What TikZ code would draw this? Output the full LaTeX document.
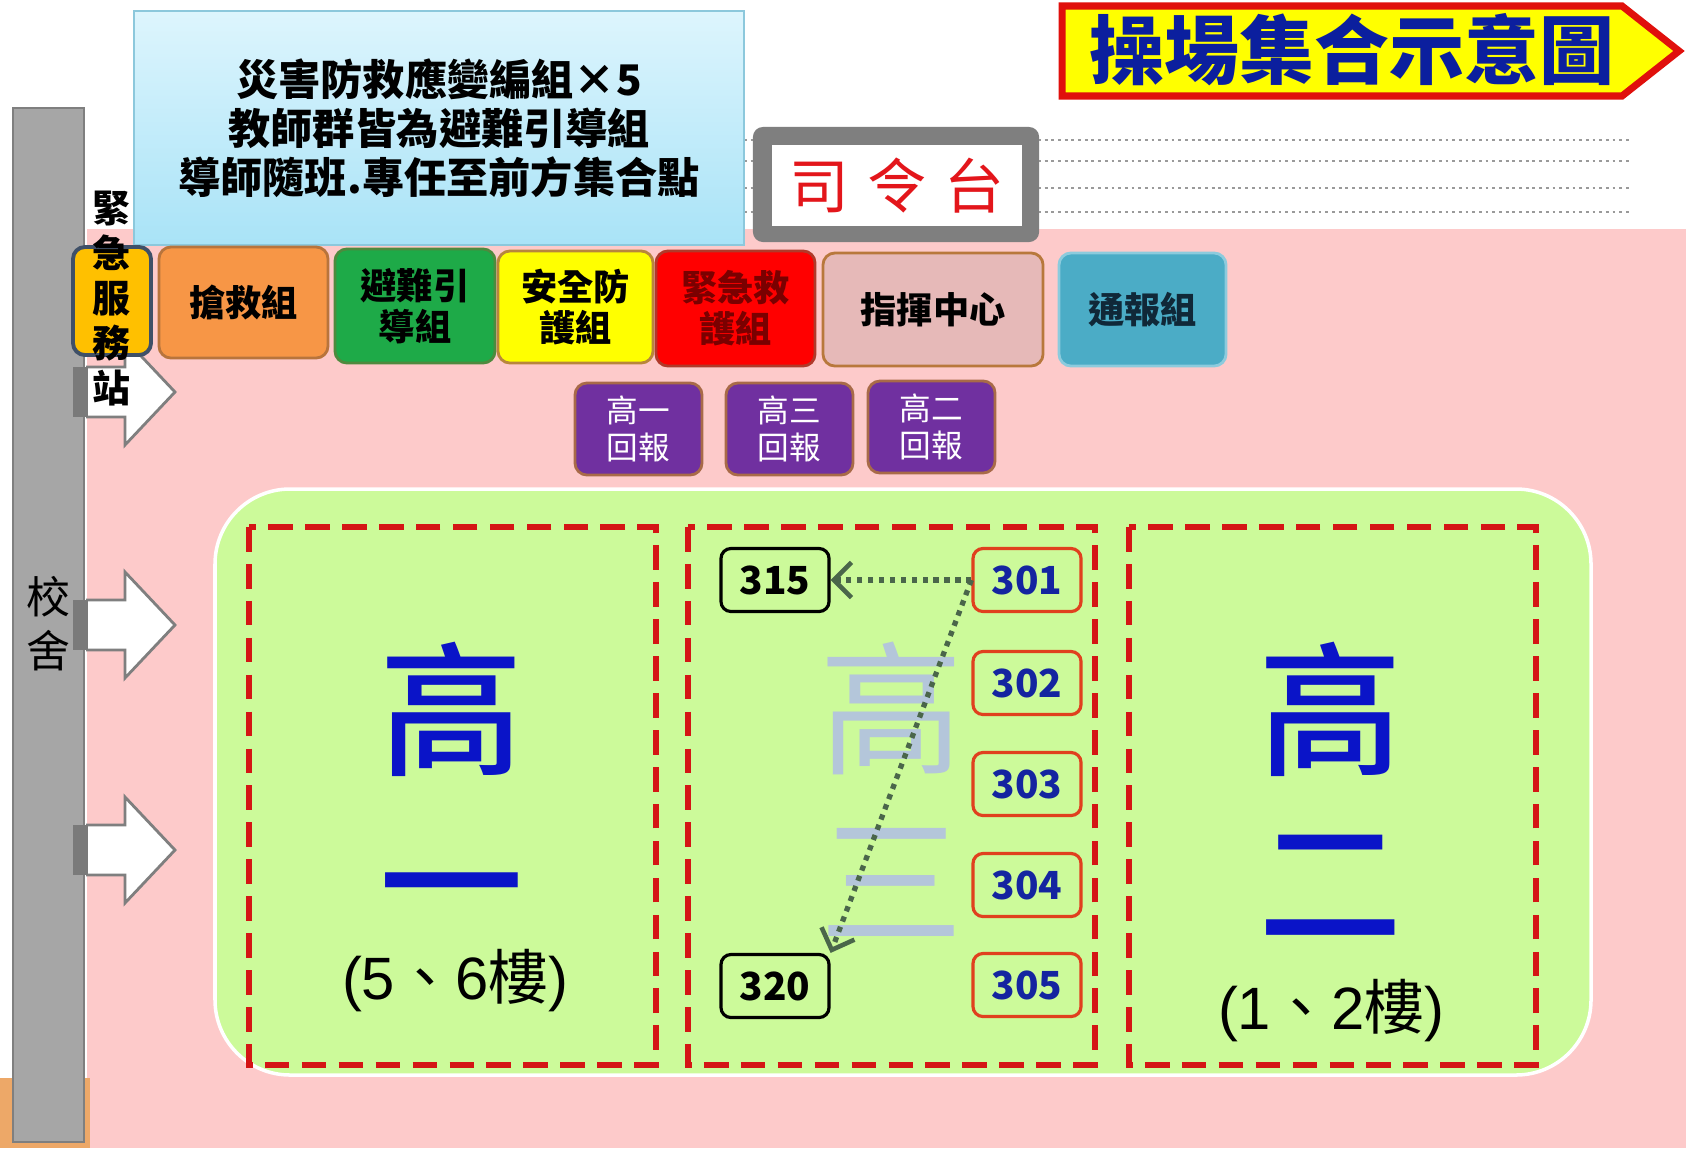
\documentclass[tikz,border=0pt]{standalone}
\usepackage{fontspec}
\setmainfont{Noto Sans CJK TC}
\newfontfamily\latfont{Liberation Sans}
\IfFontExistsTF{Noto Sans CJK TC Medium}
  {\newfontfamily\bigfont{Noto Sans CJK TC Medium}}
  {\newfontfamily\bigfont{Noto Sans CJK TC}[FakeBold=2]}
\usetikzlibrary{arrows.meta}
\definecolor{pinkbg}{HTML}{FDCACA}
\definecolor{orangebit}{HTML}{EDA868}
\definecolor{bargray}{HTML}{A6A6A6}
\definecolor{bardark}{HTML}{7F7F7F}
\definecolor{stubgray}{HTML}{7A7A7A}
\definecolor{arrgray}{HTML}{7F7F7F}
\definecolor{guidec}{HTML}{9A9A9A}
\definecolor{bluetop}{HTML}{DDF5FD}
\definecolor{bluebot}{HTML}{A9E3F7}
\definecolor{blueedge}{HTML}{8CC8DC}
\definecolor{titley}{HTML}{FFFF00}
\definecolor{titler}{HTML}{E0100C}
\definecolor{titleb}{HTML}{0B1F9E}
\definecolor{frgray}{HTML}{7F7F7F}
\definecolor{stagered}{HTML}{E3161B}
\definecolor{emgfill}{HTML}{FFC000}
\definecolor{emgedge}{HTML}{3F5068}
\definecolor{qjfill}{HTML}{F79646}
\definecolor{qjedge}{HTML}{B8743C}
\definecolor{bnfill}{HTML}{1EAA48}
\definecolor{bnedge}{HTML}{4E8A3E}
\definecolor{aqfill}{HTML}{FFFF00}
\definecolor{aqedge}{HTML}{B8863C}
\definecolor{jjfill}{HTML}{FF0000}
\definecolor{jjedge}{HTML}{B03A2A}
\definecolor{jjtext}{HTML}{7A0000}
\definecolor{zhfill}{HTML}{E6B9B8}
\definecolor{zhedge}{HTML}{B8783C}
\definecolor{tbfill}{HTML}{4BACC6}
\definecolor{tbedge}{HTML}{8CCBDD}
\definecolor{tbtext}{HTML}{102838}
\definecolor{purp}{HTML}{7030A0}
\definecolor{repedge}{HTML}{A86A48}
\definecolor{fieldg}{HTML}{CCFA9A}
\definecolor{zonered}{HTML}{D41515}
\definecolor{bigblue}{HTML}{0A14C8}
\definecolor{palebl}{HTML}{B4C6DA}
\definecolor{clsred}{HTML}{E0401E}
\definecolor{clsblue}{HTML}{1424A0}
\definecolor{dotc}{HTML}{4A664A}
\tikzset{
  grp/.style={draw=#1, rounded corners=0.12cm, line width=0.8pt, inner sep=0pt, align=center,
    font=\fontsize{10.3}{11.6}\selectfont\bfseries},
  rep/.style={draw=repedge, fill=purp, rounded corners=0.12cm, line width=0.8pt, text=white,
    align=center, inner sep=0pt, minimum width=1.27cm, minimum height=0.92cm,
    font=\fontsize{9}{10.5}\selectfont},
  cls/.style={draw=clsred, rounded corners=0.1cm, line width=0.9pt, inner sep=0pt,
    minimum width=1.08cm, minimum height=0.63cm, text=clsblue,
    font=\fontsize{11}{11}\selectfont\bfseries},
  clsk/.style={cls, draw=black, text=black},
  zone/.style={draw=zonered, line width=1.7pt, dash pattern=on 7pt off 3.5pt},
  bigc/.style={text=bigblue, align=center, font=\fontsize{41}{49}\selectfont\bigfont},
  floorlbl/.style={font=\fontsize{17}{17}\selectfont, text=black},
  dotarrow/.style={draw=dotc, line width=1.5pt, dash pattern=on 1.5pt off 1.6pt,
    -{Straight Barb[length=5pt,width=10pt,line width=1.3pt]}},
  widearrow/.style={fill=white, draw=arrgray, line width=0.8pt, line join=miter},
  guide/.style={draw=guidec, line width=0.4pt, dash pattern=on 0.8pt off 1.1pt},
}
\begin{document}
\begin{tikzpicture}[x=0.01cm,y=-0.01cm]
\useasboundingbox (0,0) rectangle (1686,1148);
\fill[white] (0,0) rectangle (1686,1148);
\fill[pinkbg] (87,229) rectangle (1686,1148);
\fill[orangebit] (0,1078) rectangle (90,1148);
% guide lines right of the stage
\foreach \yy in {140,161,188,212} \draw[guide] (744,\yy) -- (1629,\yy);

% school building bar
\node[draw=bardark, fill=bargray, line width=0.6pt, minimum width=0.71cm, minimum height=10.34cm, inner sep=0pt] (bar) at (48.5,625) {};
\node[align=center, font=\fontsize{12.5}{15.4}\selectfont] (bartxt) at (48,624) {校\\舍};

% exit arrows
\draw[widearrow] (86,367) -- (125,367) -- (125,339) -- (175,392) -- (125,445) -- (125,417) -- (86,417);
\fill[stubgray] (73,367) rectangle (88,417);
\draw[widearrow] (86,600) -- (125,600) -- (125,572) -- (175,625) -- (125,678) -- (125,650) -- (86,650);
\fill[stubgray] (73,600) rectangle (88,650);
\draw[widearrow] (86,825) -- (125,825) -- (125,797) -- (175,850) -- (125,903) -- (125,875) -- (86,875);
\fill[stubgray] (73,825) rectangle (88,875);

% info box
\node[draw=blueedge, top color=bluetop, bottom color=bluebot, line width=0.6pt,
      minimum width=6.10cm, minimum height=2.34cm, inner sep=0pt, align=center,
      font=\fontsize{12}{13.9}\selectfont\bfseries] (info) at (439,128)
  {災害防救應變編組×5\\教師群皆為避難引導組\\導師隨班.專任至前方集合點};

% title arrow
\path[fill=titley, draw=titler, line width=2pt, line join=miter]
  (1062,6) -- (1622,6) -- (1679,51) -- (1622,96) -- (1062,96) -- cycle;
\node[text=titleb, font=\fontsize{21.3}{22}\selectfont\bfseries] (title) at (1352,50) {操場集合示意圖};

% stage
\node[fill=frgray, rounded corners=0.1cm, minimum width=2.86cm, minimum height=1.15cm, inner sep=0pt] (stageframe) at (896,184.5) {};
\node[fill=white, minimum width=2.50cm, minimum height=0.81cm, inner sep=0pt, text=stagered,
      font=\fontsize{17}{17}\selectfont\addfontfeatures{LetterSpace=30}] (stage) at (897,185.5) {司令台};

% group boxes
\node[grp=emgedge, fill=emgfill, line width=1.1pt, minimum width=0.78cm, minimum height=1.08cm] (emgbox) at (112,301) {};
\node[align=center, font=\fontsize{10.8}{12.8}\selectfont\bfseries] (emgtxt) at (111,299) {緊\\急\\服\\務\\站};
\node[grp=qjedge, fill=qjfill, minimum width=1.69cm, minimum height=1.11cm] (qj) at (243.5,302.5) {搶救組};
\node[grp=bnedge, fill=bnfill, minimum width=1.60cm, minimum height=1.14cm] (bn) at (415,306) {避難引\\導組};
\node[grp=aqedge, fill=aqfill, minimum width=1.55cm, minimum height=1.12cm] (aq) at (575.5,307) {安全防\\護組};
\node[grp=jjedge, fill=jjfill, text=jjtext, minimum width=1.59cm, minimum height=1.15cm] (jj) at (735.5,308.5) {緊急救\\護組};
\node[grp=zhedge, fill=zhfill, minimum width=2.20cm, minimum height=1.13cm] (zh) at (933,309.5) {指揮中心};
\node[grp=tbedge, fill=tbfill, text=tbtext, minimum width=1.67cm, minimum height=1.13cm] (tb) at (1142.5,309.5) {通報組};

% report boxes
\node[rep] (r1) at (638.5,429) {高一\\回報};
\node[rep] (r3) at (789.5,429) {高三\\回報};
\node[rep] (r2) at (931.5,427) {高二\\回報};

% field
\draw[fill=fieldg, draw=white, line width=1pt, rounded corners=0.75cm] (215,489) rectangle (1591,1075);
\draw[zone] (249,527) rectangle (656,1065);
\draw[zone] (688,527) rectangle (1095,1065);
\draw[zone] (1129,527) rectangle (1536,1065);

% grade labels
\node[bigc] (g1) at (452,789) {高\\一};
\node[floorlbl] (g1f) at (455,981) {{\latfont(5}、{\latfont 6}樓{\latfont)}};
\node[bigc] (g2) at (1331,789) {高\\二};
\node[floorlbl] (g2f) at (1331,1011) {{\latfont(1}、{\latfont 2}樓{\latfont)}};
\node[bigc, text=palebl, font=\fontsize{41}{49}\selectfont] (g3) at (892,789) {高\\三};

% classrooms
\node[cls] (n301) at (1027,580) {301};
\node[cls] (n302) at (1027,683) {302};
\node[cls] (n303) at (1027,784) {303};
\node[cls] (n304) at (1027,885) {304};
\node[cls] (n305) at (1027,985) {305};
\node[clsk] (n315) at (775,580) {315};
\node[clsk] (n320) at (775,986) {320};

\draw[dotarrow] (n301.west) -- (n315.east);
\draw[dotarrow] (n301.west) -- (n320.north east);
\end{tikzpicture}
\end{document}
